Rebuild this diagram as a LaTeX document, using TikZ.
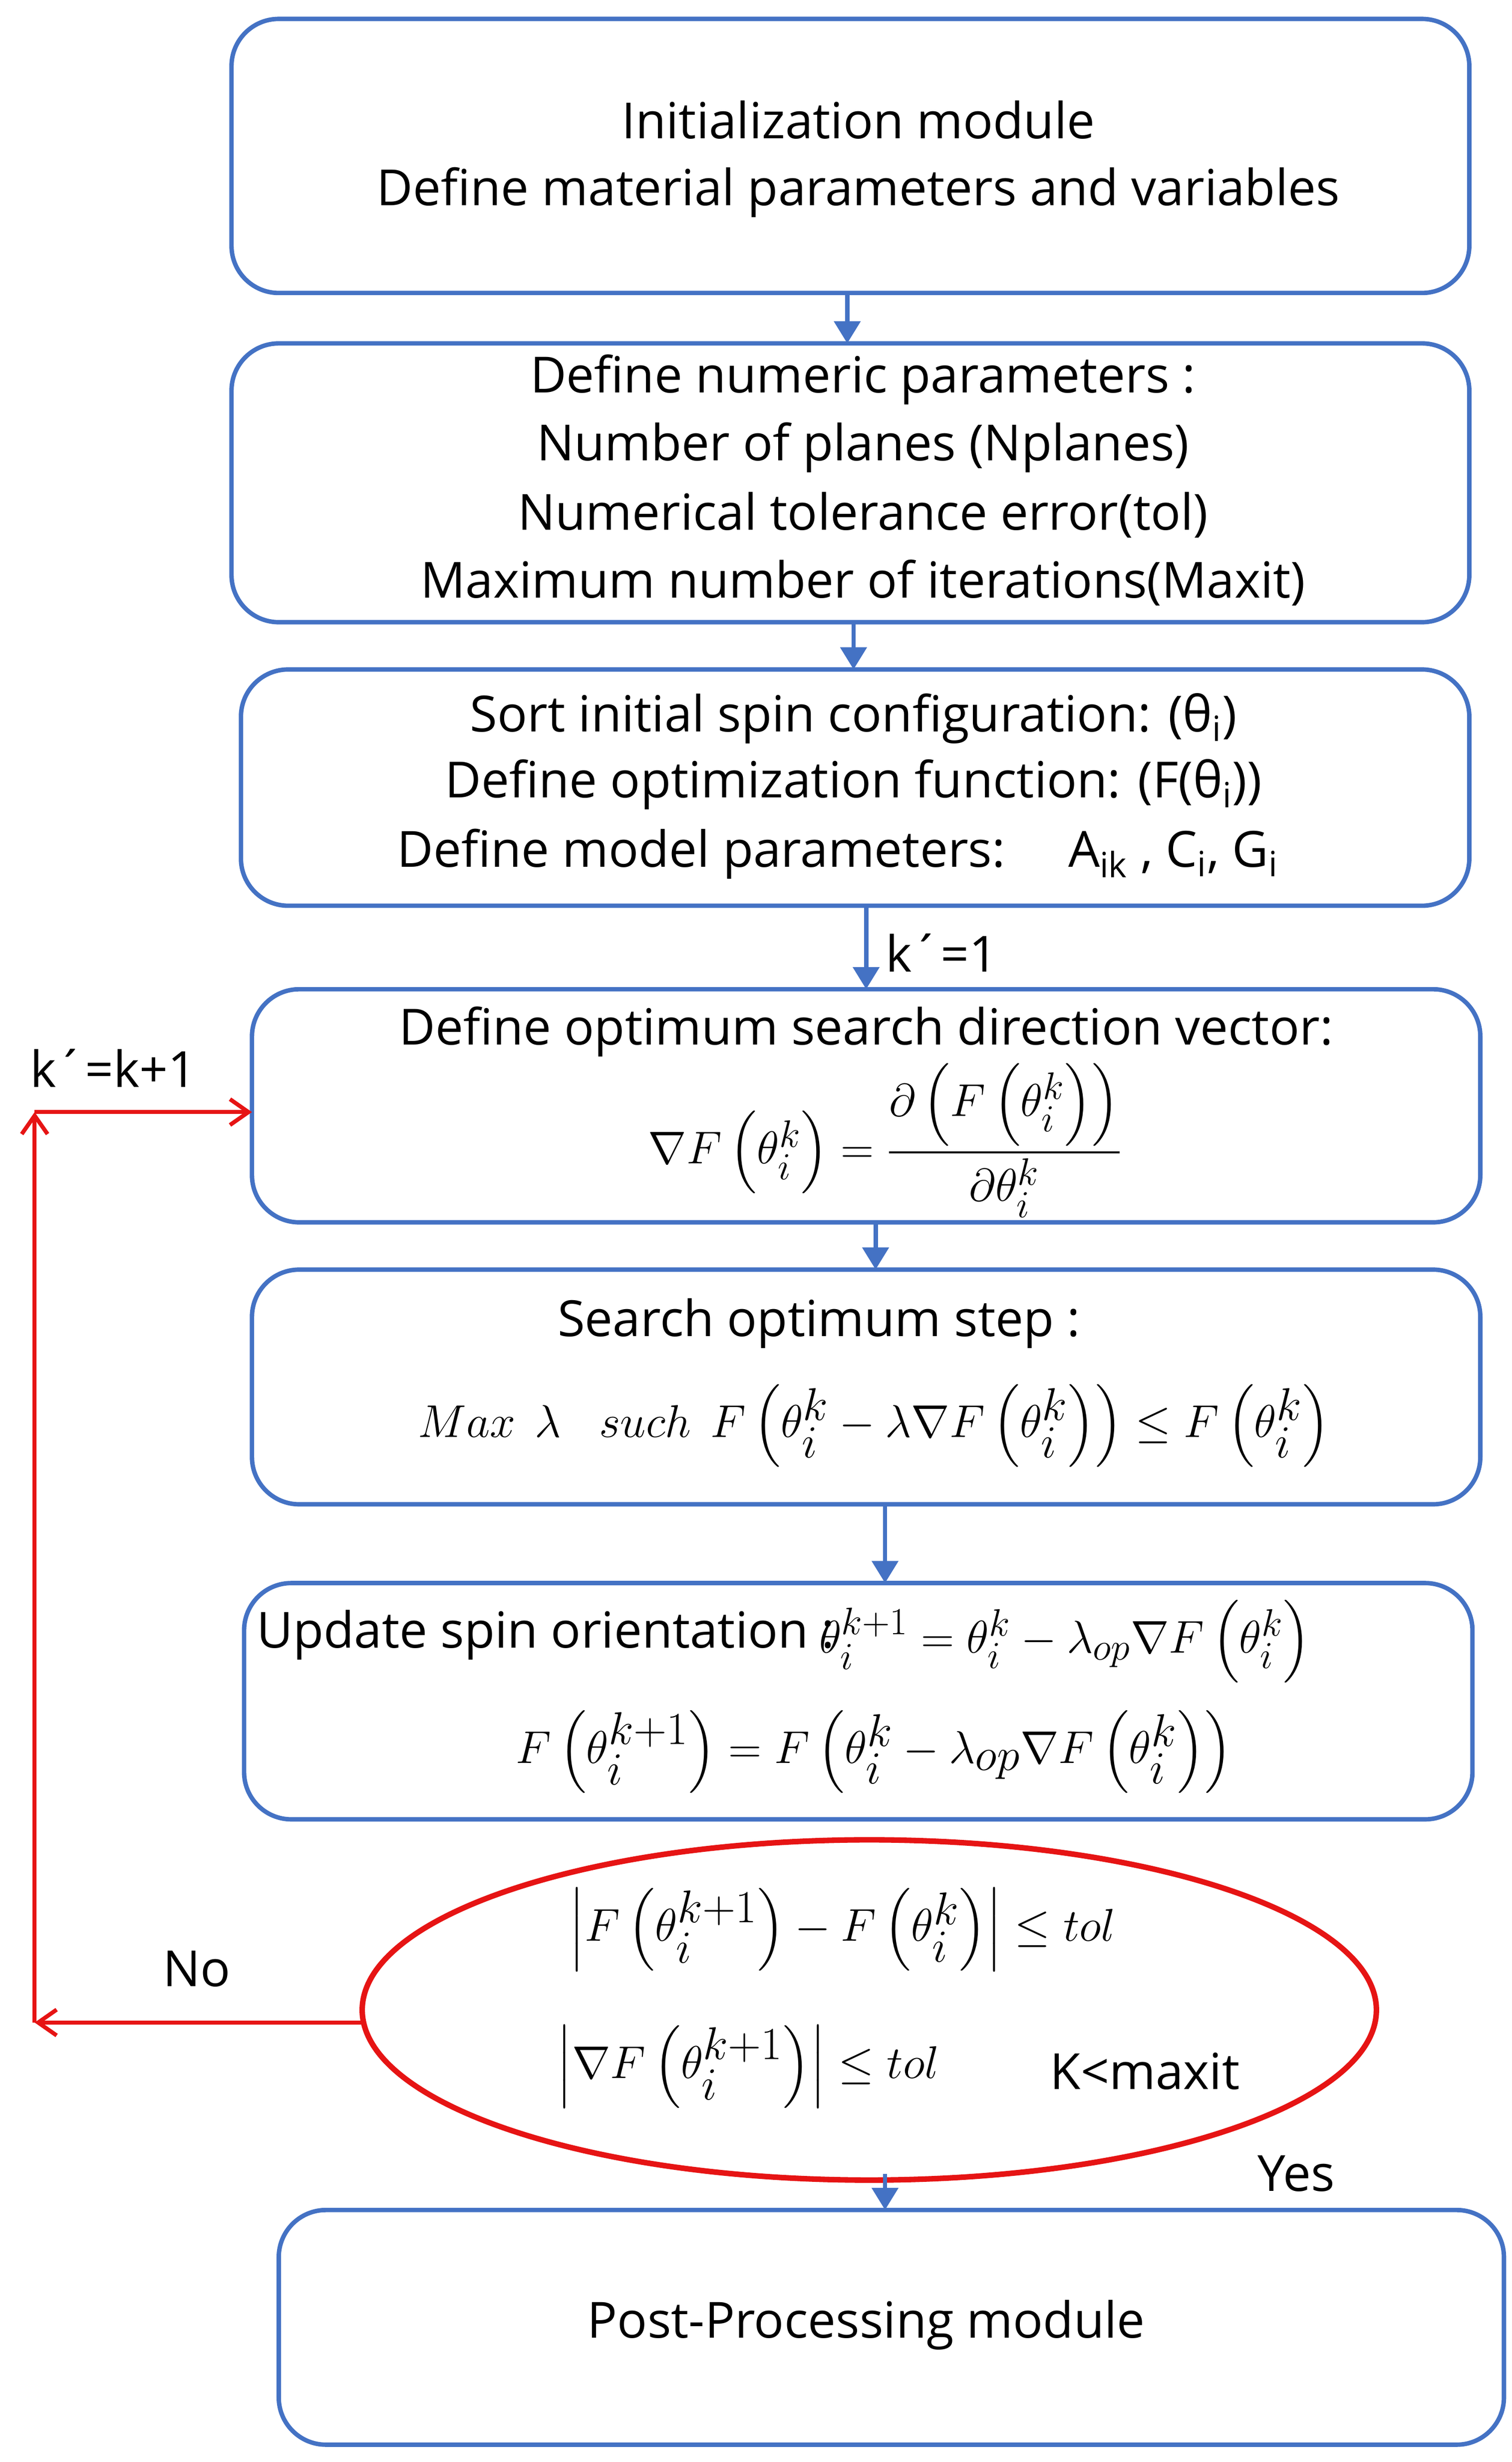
\documentclass[tikz,border=0pt]{standalone}
\usepackage{amsmath}
\usepackage{fontspec}
\setmainfont{Open Sans}
\usetikzlibrary{arrows.meta,shapes.geometric,calc}
\definecolor{bb}{RGB}{68,114,196}
\definecolor{rr}{RGB}{230,20,20}
\begin{document}
\begin{tikzpicture}[x=0.03cm,y=-0.03cm,
 box/.style={draw=bb,line width=2.4pt,rounded corners=0.9cm},
 txt/.style={font=\fontsize{27}{30}\selectfont,inner sep=0},
 mth/.style={font=\fontsize{32}{34}\selectfont,inner sep=0},
 ba/.style={draw=bb,line width=2.4pt,-{Triangle[length=12pt,width=14pt]}},
 ra/.style={draw=rr,line width=2.2pt,-{Straight Barb[length=10pt,width=14pt]}}]
\useasboundingbox (0,0) rectangle (960,1563);
\draw[box] (147,12) rectangle (933,186);
\node[txt] (t1) at (545,76) {Initialization module};
\node[txt] (t2) at (545,122) {Define material parameters and variables};
\draw[box] (147,218) rectangle (933,395);
\node[txt] (t3) at (548,241) {Define numeric parameters :};
\node[txt] (t4) at (548,284) {Number of planes (Nplanes)};
\node[txt] (t5) at (548,327) {Numerical tolerance error(tol)};
\node[txt] (t6) at (548,370) {Maximum number of iterations(Maxit)};
\draw[box] (153,425) rectangle (933,575);
\node[txt] (t7) at (542,456) {Sort initial spin configuration: (θ\textsubscript{i})};
\node[txt] (t8) at (542,498) {Define optimization function: (F(θ\textsubscript{i}))};
\node[txt,anchor=west] (t9) at (252,542) {Define model parameters:\hspace{1.2cm}A\textsubscript{ik} , C\textsubscript{i}, G\textsubscript{i}};
\draw[box] (160,628) rectangle (940,776);
\node[txt] (t10) at (550,655) {Define optimum search direction vector:};
\node[mth,font=\fontsize{28}{30}\selectfont] (t11) at (562,724) {$\nabla F\left(\theta_i^k\right)=\dfrac{\partial\left(F\left(\theta_i^k\right)\right)}{\partial\theta_i^k}$};
\draw[box] (160,806) rectangle (940,955);
\node[txt] (t12) at (520,840) {Search optimum step :};
\node[mth,font=\fontsize{40}{44}\selectfont] (t13) at (555,905) {$Max\ \lambda\ \ such\ F\left(\theta_i^k-\lambda\nabla F\left(\theta_i^k\right)\right)\le F\left(\theta_i^k\right)$};
\draw[box] (155,1005) rectangle (935,1155);
\node[txt,anchor=west] (t14) at (163,1038) {Update spin orientation :};
\node[mth,anchor=west] (t15) at (520,1042) {$\theta_i^{k+1}=\theta_i^k-\lambda_{op}\nabla F\left(\theta_i^k\right)$};
\node[mth,font=\fontsize{34}{36}\selectfont] (t16) at (555,1112) {$F\left(\theta_i^{k+1}\right)=F\left(\theta_i^k-\lambda_{op}\nabla F\left(\theta_i^k\right)\right)$};
\draw[draw=rr,line width=3pt] (552,1276) ellipse [x radius=322,y radius=108];
\node[mth,font=\fontsize{34}{36}\selectfont] (t17) at (535,1225) {$\left|F\left(\theta_i^{k+1}\right)-F\left(\theta_i^k\right)\right|\le tol$};
\node[mth,font=\fontsize{34}{36}\selectfont] (t18) at (475,1312) {$\left|\nabla F\left(\theta_i^{k+1}\right)\right|\le tol$};
\node[txt] (t19) at (727,1315) {K<maxit};
\draw[box] (177,1403) rectangle (955,1552);
\node[txt] (t20) at (550,1476) {Post-Processing module};
\coordinate (a1) at (538,186); \coordinate (a2) at (538,218);
\coordinate (a3) at (542,395); \coordinate (a4) at (542,425);
\coordinate (a5) at (550,575); \coordinate (a6) at (550,628);
\coordinate (a7) at (556,776); \coordinate (a8) at (556,806);
\coordinate (a9) at (562,955); \coordinate (a10) at (562,1005);
\coordinate (a11) at (562,1380); \coordinate (a12) at (562,1403);
\draw[ba] (a1) -- (a2); \draw[ba] (a3) -- (a4); \draw[ba] (a5) -- (a6);
\draw[ba] (a7) -- (a8); \draw[ba] (a9) -- (a10); \draw[ba] (a11) -- (a12);
\node[txt] (l1) at (598,605) {k´=1};
\node[txt] (l2) at (823,1380) {Yes};
\coordinate (e) at (230,1284); \coordinate (c1) at (22,1284);
\coordinate (c2) at (22,706); \coordinate (t) at (160,706);
\draw[ra] (e) -- (c1);
\draw[ra] (c1) -- (c2);
\draw[ra] (c2) -- (t);
\node[txt] (l3) at (125,1250) {No};
\node[txt] (l4) at (72,678) {k´=k+1};
\end{tikzpicture}
\end{document}
